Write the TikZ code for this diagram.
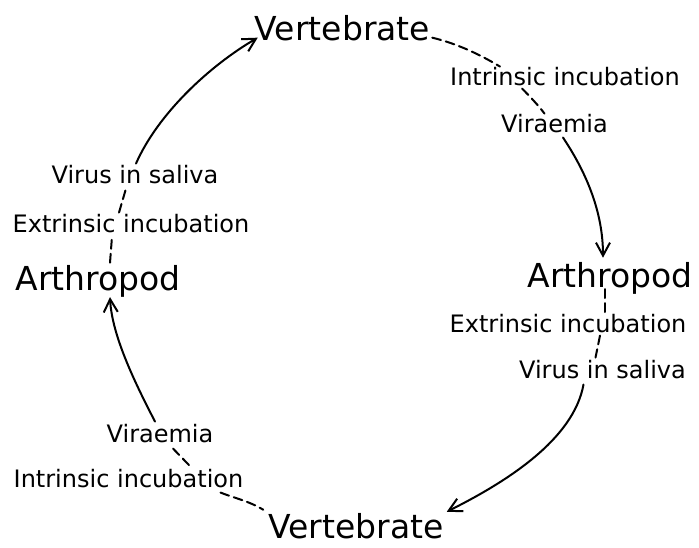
\documentclass[tikz,border=0pt]{standalone}
\usepackage{fontspec}
\setmainfont{DejaVu Sans}
\usetikzlibrary{arrows.meta}
\tikzset{
  big/.style={font=\fontsize{33}{36}\selectfont, inner sep=0pt, anchor=base},
  small/.style={font=\fontsize{24}{27}\selectfont, inner sep=0pt, anchor=base},
  link/.style={line width=2pt, line cap=round},
  dashlink/.style={link, dash pattern=on 9pt off 5pt},
  arrowlink/.style={link, -{Straight Barb[length=13pt,width=14pt]}}
}
\begin{document}
\begin{tikzpicture}[x=1pt,y=-1pt]
\useasboundingbox (0,0) rectangle (699,547);
% nodes
\node[big]   (vt) at (342.5,40) {Vertebrate};
\node[small] (ri) at (565,85)   {Intrinsic incubation};
\node[small] (rv) at (554.5,132) {Viraemia};
\node[big]   (ra) at (610,287)  {Arthropod};
\node[small] (re) at (568,332)  {Extrinsic incubation};
\node[small] (rs) at (602.5,378) {Virus in saliva};
\node[big]   (vb) at (356,538)  {Vertebrate};
\node[small] (li) at (128.5,487) {Intrinsic incubation};
\node[small] (lv) at (160,442)  {Viraemia};
\node[big]   (la) at (98,290)   {Arthropod};
\node[small] (le) at (131,232)  {Extrinsic incubation};
\node[small] (ls) at (135,183)  {Virus in saliva};
% top right quarter
\draw[dashlink] ([xshift=2pt,yshift=3pt]vt.south east) .. controls +(25,6) and +(-20,-12) .. ([xshift=-65pt]ri.north);
\draw[dashlink] ([xshift=-43pt,yshift=-3pt]ri.south) .. controls +(8,8) and +(-6,-8) .. ([xshift=-10pt]rv.north);
\draw[arrowlink] ([xshift=8.5pt,yshift=-5pt]rv.south) .. controls +(24,36) and +(0,-45) .. ([xshift=-7pt,yshift=4pt]ra.north);
% bottom right quarter
\draw[dashlink] ([xshift=-5pt,yshift=-2pt]ra.base) -- ([xshift=37pt,yshift=1pt]re.north);
\draw[dashlink] ([xshift=32pt,yshift=-3pt]re.south) -- ([xshift=-7pt,yshift=2pt]rs.north);
\draw[arrowlink] ([xshift=-19pt,yshift=-6pt]rs.south) .. controls +(-10,55) and +(60,-30) .. ([xshift=3pt,yshift=1pt]vb.north east);
% bottom left quarter
\draw[dashlink] ([xshift=-23pt,yshift=-5pt]li.south east) .. controls +(15,6) and +(-15,-9) .. ([xshift=-5pt,yshift=3pt]vb.north west);
\draw[dashlink] ([xshift=13pt,yshift=-6pt]lv.south) -- ([xshift=61pt,yshift=3pt]li.north);
\draw[arrowlink] ([xshift=-5pt,yshift=2pt]lv.north) .. controls +(-18,-35) and +(2,40) .. ([xshift=12pt]la.south);
% top left quarter
\draw[dashlink] ([xshift=12pt,yshift=2pt]la.north) -- ([xshift=-19pt,yshift=-4pt]le.south);
\draw[dashlink] ([xshift=-12pt,yshift=1pt]le.north) -- ([xshift=-9pt,yshift=-5pt]ls.south);
\draw[arrowlink] ([xshift=1pt,yshift=1pt]ls.north) .. controls +(22,-50) and +(-48,28) .. ([xshift=3pt,yshift=3pt]vt.south west);
\end{tikzpicture}
\end{document}
